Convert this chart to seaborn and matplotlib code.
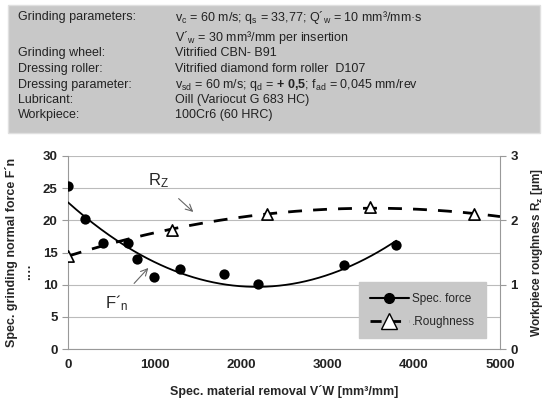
import numpy as np
import matplotlib
matplotlib.use("Agg")
import matplotlib.pyplot as plt
import seaborn as sns
from matplotlib.lines import Line2D

# ------------------------------------------
# data
# ------------------------------------------
force_x = [0, 200, 400, 700, 800, 1000, 1300, 1800, 2200, 3200, 3800]
force_y = [25.3, 20.2, 16.4, 16.4, 14.0, 11.2, 12.4, 11.7, 10.1, 13.0, 16.1]

rough_x = [0, 1200, 2300, 3500, 4700]
rough_y = [1.45, 1.85, 2.1, 2.2, 2.1]

header_left = ["Grinding parameters:", "", "Grinding wheel:", "Dressing roller:",
               "Dressing parameter:", "Lubricant:", "Workpiece:"]
header_right = [
    "v$_c$ = 60 m/s; q$_s$ = 33,77; Q´$_w$ = 10 mm³/mm·s",
    "V´$_w$ = 30 mm³/mm per insertion",
    "Vitrified CBN- B91",
    "Vitrified diamond form roller  D107",
    "v$_{sd}$ = 60 m/s; q$_d$ = $\\mathbf{+\\ 0{,}5}$; f$_{ad}$ = 0,045 mm/rev",
    "Oill (Variocut G 683 HC)",
    "100Cr6 (60 HRC)",
]

# ------------------------------------------
# style
# ------------------------------------------
sns.set_style("white")
plt.rcParams["font.family"] = ["Liberation Sans", "DejaVu Sans"]
plt.rcParams["mathtext.fontset"] = "custom"
plt.rcParams["mathtext.rm"] = "Liberation Sans"
plt.rcParams["mathtext.bf"] = "Liberation Sans:bold"
plt.rcParams["mathtext.default"] = "regular"

fig = plt.figure(figsize=(5.45, 3.99), dpi=100)

# header box
fig.patches.append(plt.Rectangle((8 / 545, 1 - 133 / 399), 532 / 545, 128 / 399,
                                 transform=fig.transFigure, facecolor="#c8c8c8",
                                 edgecolor="#e0e0e0", zorder=0))
ys = [17, 37, 53, 69, 85, 100, 115]
for y, l, r in zip(ys, header_left, header_right):
    fig.text(18 / 545, 1 - y / 399, l, fontsize=9, va="center", color="#222222")
    fig.text(175 / 545, 1 - y / 399, r, fontsize=9, va="center", color="#222222")

# ------------------------------------------
# chart
# ------------------------------------------
ax = fig.add_axes([68 / 545, 1 - 349 / 399, 432 / 545, 193 / 399])
ax2 = ax.twinx()

# trend lines (quadratic fits)
fx = np.linspace(0, 3800, 200)
fc = np.polyfit(force_x, force_y, 2)
sns.lineplot(x=fx, y=np.polyval(fc, fx), ax=ax, color="black", lw=1.3, zorder=3)
sns.scatterplot(x=force_x, y=force_y, ax=ax, color="black", s=55, zorder=4,
                edgecolor="black", linewidth=0)

rx = np.linspace(0, 5000, 200)
rc = np.polyfit(rough_x, rough_y, 2)
sns.lineplot(x=rx, y=np.polyval(rc, rx), ax=ax2, color="black", lw=2,
             linestyle=(0, (5, 4)), zorder=3)
sns.scatterplot(x=rough_x, y=rough_y, ax=ax2, marker="^", s=65, facecolor="white",
                edgecolor="black", linewidth=1.2, zorder=4)

ax.set_xlim(0, 5000)
ax.set_ylim(0, 30)
ax2.set_ylim(0, 3)
ax.set_xticks([0, 1000, 2000, 3000, 4000, 5000])
ax.set_yticks(range(0, 31, 5))
ax2.set_yticks([0, 1, 2, 3])
ax.grid(axis="y", color="#bbbbbb", lw=0.8)
ax.set_axisbelow(True)

for a in (ax, ax2):
    for s in a.spines.values():
        s.set_visible(False)
    a.tick_params(labelsize=9.5, colors="#222222", length=4, color="#999999")
    for t in a.get_xticklabels() + a.get_yticklabels():
        t.set_fontweight("bold")
ax.spines["left"].set_visible(True)
ax.spines["left"].set_color("#999999")
ax.spines["bottom"].set_visible(True)
ax.spines["bottom"].set_color("#999999")
ax2.spines["right"].set_visible(True)
ax2.spines["right"].set_color("#999999")

ax.set_xlabel("Spec. material removal V´W [mm³/mm]", fontsize=9, fontweight="bold",
              labelpad=10)
ax.set_ylabel("Spec. grinding normal force F´n", fontsize=9, fontweight="bold",
              labelpad=18)
ax2.set_ylabel("Workpiece roughness R$_z$ [µm]", fontsize=8.5, fontweight="bold",
               labelpad=8)
fig.text(30 / 545, 1 - 272 / 399, "····", rotation=90, fontsize=9,
         fontweight="bold", ha="center", va="center")

# annotations
ax.annotate("R$_Z$", xy=(1450, 21.3), xytext=(1050, 26.2), fontsize=12,
            ha="center", va="center",
            arrowprops=dict(arrowstyle="->", color="#666666", lw=0.8,
                            shrinkA=6, shrinkB=0))
ax.annotate("F´$_n$", xy=(930, 12.6), xytext=(560, 7.2), fontsize=12,
            ha="center", va="center",
            arrowprops=dict(arrowstyle="->", color="#666666", lw=0.8,
                            shrinkA=6, shrinkB=0))

# legend
handles = [
    Line2D([], [], color="black", marker="o", markersize=7, lw=1.5),
    Line2D([], [], color="black", marker="^", markersize=11, markerfacecolor="white",
           lw=2, linestyle=(0, (4, 3))),
]
leg = ax.legend(handles, ["Spec. force", ".Roughness"], loc="lower left",
                bbox_to_anchor=(0.66, 0.025), frameon=True, fancybox=False,
                facecolor="#c8c8c8", edgecolor="#c8c8c8", framealpha=1,
                fontsize=8.5, handlelength=3.3, handletextpad=0.3,
                borderpad=0.9, labelspacing=0.9)
leg.set_zorder(10)

fig.savefig("out.png", dpi=100)
